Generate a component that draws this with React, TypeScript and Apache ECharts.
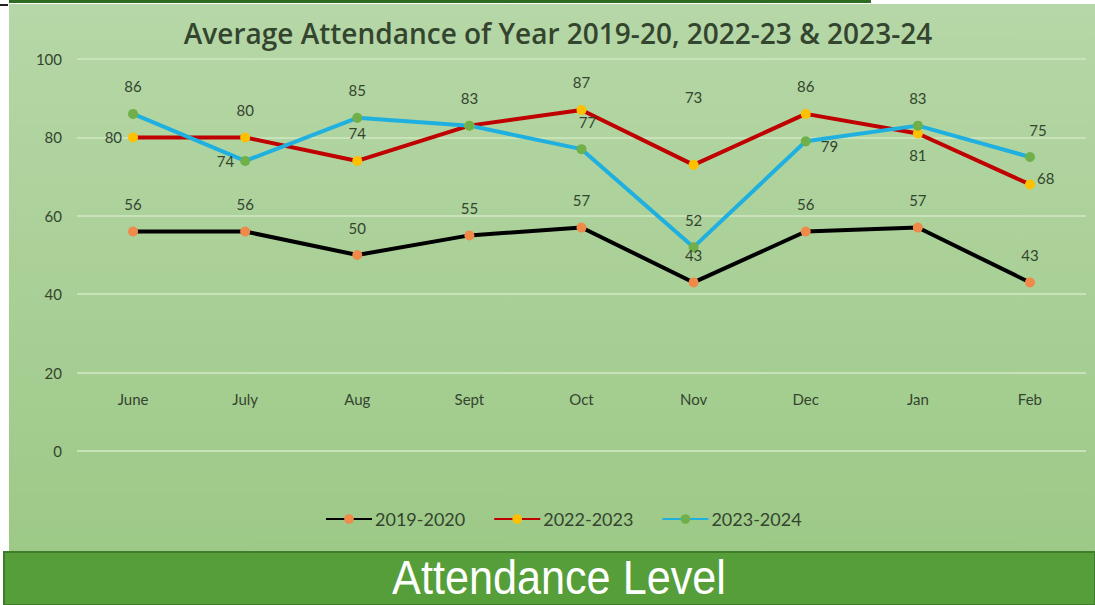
import React, { useEffect, useRef } from "react";
import * as echarts from "echarts";

const months = ["June", "July", "Aug", "Sept", "Oct", "Nov", "Dec", "Jan", "Feb"];
const seriesNames = ["2019-2020", "2022-2023", "2023-2024"];
const att1920 = [56, 56, 50, 55, 57, 43, 56, 57, 43];
const att2223 = [80, 80, 74, 83, 87, 73, 86, 81, 68];
const att2324 = [86, 74, 85, 83, 77, 52, 79, 83, 75];
const yTicks = [0, 20, 40, 60, 80, 100];

const TEXT = "#34452f";
const FONT = "Lato, 'Open Sans', sans-serif";

// label placement tweaks per point (position, offset, show)
type LabelTweak = { position?: string; offset?: number[]; show?: boolean };
const tweaks2223: Record<number, LabelTweak> = {
  0: { position: "left" },
  5: { offset: [0, -40] },
  7: { position: "bottom", offset: [0, 3] },
  8: { position: "right", offset: [-4, -6] },
};
const tweaks2324: Record<number, LabelTweak> = {
  1: { position: "left" },
  3: { show: false },
  4: { offset: [6, 0] },
  6: { position: "right", offset: [4, 5] },
  8: { offset: [8, 0] },
};

function buildData(values: number[], tweaks: Record<number, LabelTweak>) {
  return values.map((v, i) => {
    const t = tweaks[i];
    if (!t) return v;
    return {
      value: v,
      label: {
        show: t.show !== false,
        position: t.position || "top",
        offset: t.offset || [0, 0],
        distance: t.position && t.position !== "top" ? 6 : 15,
      },
    };
  });
}

export default function App() {
  const ref = useRef<HTMLDivElement>(null);

  useEffect(() => {
    if (!ref.current) return;
    const chart = echarts.init(ref.current, undefined, { renderer: "svg" });

    const mkSeries = (name: string, data: any[], line: string, marker: string) => ({
      name,
      type: "line",
      data,
      symbol: "circle",
      symbolSize: 10,
      lineStyle: { color: line, width: 4 },
      itemStyle: { color: marker, borderWidth: 0 },
      label: {
        show: true,
        position: "top",
        distance: 15,
        color: TEXT,
        fontSize: 15,
        fontFamily: FONT,
      },
      z: 3,
    });

    chart.setOption({
      animation: false,
      backgroundColor: "#ffffff",
      graphic: [
        {
          type: "rect",
          z: -100,
          silent: true,
          shape: { x: 9, y: 4, width: 1086, height: 548 },
          style: {
            fill: new echarts.graphic.LinearGradient(0, 0, 0, 1, [
              { offset: 0, color: "#b6d7a7" },
              { offset: 1, color: "#9dc987" },
            ]),
          },
        },
        {
          type: "rect",
          z: -99,
          silent: true,
          shape: { x: 9, y: 0, width: 862, height: 3 },
          style: { fill: "#2e6b22" },
        },
        {
          type: "rect",
          z: -99,
          silent: true,
          shape: { x: 0, y: 4, width: 8, height: 2 },
          style: { fill: "#222222" },
        },
        {
          type: "text",
          z: 5,
          silent: true,
          x: 558,
          y: 33,
          style: {
            text: "Average Attendance of Year 2019-20, 2022-23 & 2023-24",
            fill: TEXT,
            fontSize: 28,
            fontWeight: 600,
            fontFamily: "'Open Sans', sans-serif",
            align: "center",
            verticalAlign: "middle",
          },
        },
        {
          type: "rect",
          z: 10,
          silent: true,
          shape: { x: 4, y: 552, width: 1091, height: 53 },
          style: { fill: "#559e39", stroke: "#3f7d2a", lineWidth: 2 },
        },
        {
          type: "text",
          z: 11,
          silent: true,
          x: 559,
          y: 578,
          scaleX: 0.9,
          style: {
            text: "Attendance Level",
            fill: "#ffffff",
            fontSize: 48,
            fontFamily: "'Liberation Sans', sans-serif",
            align: "center",
            verticalAlign: "middle",
          },
        },
      ],
      legend: {
        bottom: 72,
        left: 320,
        itemWidth: 46,
        itemHeight: 12,
        itemGap: 28,
        textStyle: { color: TEXT, fontSize: 18, fontFamily: FONT, padding: [0, 0, 0, -2] },
        data: seriesNames,
      },
      grid: { left: 77, right: 9, top: 59, bottom: 154 },
      xAxis: {
        type: "category",
        data: months,
        boundaryGap: true,
        axisLine: { show: false },
        axisTick: { show: false },
        axisLabel: {
          margin: -60,
          color: TEXT,
          fontSize: 15,
          fontFamily: FONT,
        },
      },
      yAxis: {
        type: "value",
        min: yTicks[0],
        max: yTicks[yTicks.length - 1],
        interval: 20,
        axisLine: { show: false },
        axisTick: { show: false },
        axisLabel: { margin: 15, color: TEXT, fontSize: 15, fontFamily: FONT },
        splitLine: { lineStyle: { color: "#c8e3b9", width: 2 } },
      },
      series: [
        mkSeries(seriesNames[0], att1920, "#000000", "#f08a4b"),
        mkSeries(seriesNames[1], buildData(att2223, tweaks2223), "#c00000", "#ffc000"),
        mkSeries(seriesNames[2], buildData(att2324, tweaks2324), "#1fb0e0", "#6fb04a"),
      ],
    });

    return () => chart.dispose();
  }, []);

  return (
    <div
      ref={ref}
      style={{ position: "fixed", left: 0, top: 0, width: 1095, height: 605 }}
    />
  );
}
